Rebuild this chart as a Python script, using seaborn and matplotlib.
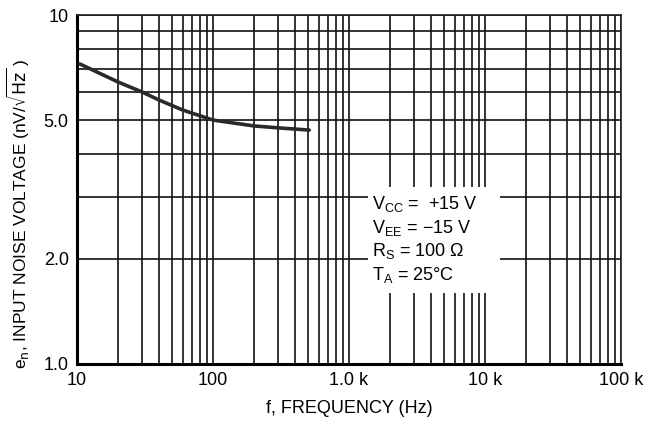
import matplotlib
matplotlib.use("Agg")
import matplotlib.pyplot as plt
import seaborn as sns
import pandas as pd
from matplotlib.patches import Rectangle
from matplotlib.ticker import FixedLocator, NullFormatter

# Data
freq_hz = [10.5, 20, 30, 40, 60, 100, 200, 300, 510]
noise_nv = [7.24, 6.43, 6.02, 5.71, 5.34, 5.0, 4.81, 4.75, 4.68]
x_tick_vals = [10, 100, 1000, 10000, 100000]
x_tick_labels = ["10", "100", "1.0 k", "10 k", "100 k"]
y_tick_vals = [1.0, 2.0, 5.0, 10.0]
y_tick_labels = ["1.0", "2.0", "5.0", "10"]
conditions = ["V$_{\\rm CC}$ =  +15 V", "V$_{\\rm EE}$ = \u221215 V",
              "R$_{\\rm S}$ = 100 \u03a9", "T$_{\\rm A}$ = 25\u00b0C"]

sns.set_theme(style="white")
fam = ["Liberation Sans", "DejaVu Sans"]
plt.rcParams["font.family"] = fam
plt.rcParams["mathtext.fontset"] = "custom"
plt.rcParams["mathtext.rm"] = "Liberation Sans"
plt.rcParams["mathtext.it"] = "Liberation Sans"

fig = plt.figure(figsize=(6.58, 4.30), dpi=100)
ax = fig.add_axes([77/658, 66/430, 544/658, 349/430])

df = pd.DataFrame({"f": freq_hz, "en": noise_nv})
sns.lineplot(data=df, x="f", y="en", ax=ax, color="#2a2a2a", linewidth=2.6, zorder=3)

ax.set_xscale("log")
ax.set_yscale("log")
ax.set_xlim(10, 100000)
ax.set_ylim(1.0, 10.0)

ax.xaxis.set_major_locator(FixedLocator(x_tick_vals))
ax.set_xticklabels(x_tick_labels)
ax.xaxis.set_minor_locator(FixedLocator([m * d for d in [10, 100, 1000, 10000] for m in range(2, 10)]))
ax.xaxis.set_minor_formatter(NullFormatter())
ax.yaxis.set_major_locator(FixedLocator(y_tick_vals))
ax.set_yticklabels(y_tick_labels)
ax.yaxis.set_minor_locator(FixedLocator([2, 3, 4, 6, 7, 8, 9]))
ax.yaxis.set_minor_formatter(NullFormatter())

ax.grid(True, which="both", color="#111111", linewidth=1.2)
ax.set_axisbelow(True)
ax.tick_params(which="both", length=0, labelsize=13, colors="black", pad=6)

for s in ["left", "bottom"]:
    ax.spines[s].set_linewidth(2.2)
    ax.spines[s].set_color("black")
for s in ["top", "right"]:
    ax.spines[s].set_linewidth(1.2)
    ax.spines[s].set_color("#222222")

ax.set_xlabel("f, FREQUENCY (Hz)", fontsize=13, color="black", labelpad=8)
ylab = ax.set_ylabel("e$_{\\rm n}$, INPUT NOISE VOLTAGE (nV/$\\sqrt{\\rm Hz}$ )", fontsize=12.5,
                     color="black")
ylab.set_math_fontfamily("dejavusans")
ax.yaxis.set_label_coords(-0.082, 0.43)

ax.add_patch(Rectangle((1380, 1.597), 12880 - 1380, 3.215 - 1.597,
                       facecolor="white", edgecolor="none", zorder=2.5))
ax.text(1480, 3.07, "\n".join(conditions), fontsize=13, color="black",
        va="top", ha="left", linespacing=1.25, zorder=4)

fig.savefig("out.png", dpi=100)
